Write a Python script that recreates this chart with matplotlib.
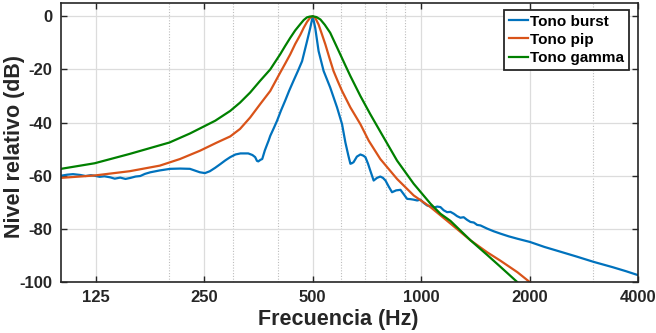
import numpy as np
import matplotlib.pyplot as plt
from matplotlib.ticker import FixedLocator, NullFormatter

# values (frequency in Hz, level in dB)
burst_f = [100, 104, 108, 113, 117, 121, 124, 128, 132, 137, 141, 146, 151, 156, 161, 166,
           171, 177, 188, 201, 214, 228, 243, 251, 259, 268, 277, 286, 295, 305, 315, 331,
           340, 346, 350, 353, 358, 362, 368, 374, 377, 381, 390, 398, 408, 419, 430, 442,
           455, 467, 482, 492, 500, 508, 519, 536, 559, 584, 603, 616, 628, 636, 642, 649,
           663, 678, 690, 700, 712, 722, 738, 754, 770, 783, 796, 812, 830, 852, 876, 895,
           914, 933, 953, 975, 995, 1016, 1039, 1062, 1084, 1108, 1131, 1155, 1180, 1206,
           1232, 1258, 1285, 1312, 1341, 1371, 1400, 1430, 1461, 1525, 1590, 1661, 1750,
           1850, 2003, 2200, 2438, 2700, 3010, 3400, 3700, 4000]
burst_db = [-60.0, -59.6, -59.4, -59.7, -60.1, -59.8, -60.0, -60.4, -60.2, -60.6, -61.1, -60.7,
            -61.2, -60.8, -60.3, -60.1, -59.3, -58.7, -58.0, -57.4, -57.3, -57.4, -58.7, -59.0,
            -58.3, -57.0, -55.6, -54.2, -53.0, -52.0, -51.6, -51.6, -52.2, -53.0, -54.4, -54.6,
            -54.0, -53.7, -50.5, -48.0, -46.8, -45.0, -42.0, -39.3, -35.5, -31.8, -28.0, -24.3,
            -20.5, -16.9, -9.4, -4.4, 0.0, -4.4, -13.1, -20.6, -26.8, -34.3, -40.6, -47.5,
            -52.5, -55.5, -55.3, -54.9, -52.8, -52.0, -52.4, -53.0, -55.5, -58.0, -61.8, -60.8,
            -60.3, -60.8, -61.8, -64.0, -66.2, -65.5, -65.3, -67.0, -68.7, -68.8, -69.0, -69.3,
            -69.0, -70.2, -71.2, -71.5, -72.0, -71.6, -71.8, -73.0, -73.7, -73.6, -74.3, -75.2,
            -75.8, -75.6, -76.6, -77.4, -77.6, -78.5, -78.7, -79.9, -80.9, -81.8, -82.8, -83.7,
            -84.9, -86.8, -88.6, -90.4, -92.4, -94.4, -95.9, -97.4]

pip_f = [100, 124, 155, 188, 214, 243, 270, 295, 314, 335, 357, 381, 406, 420, 433, 447, 462,
         472, 482, 492, 500, 508, 519, 530, 542, 556, 571, 587, 603, 636, 678, 715, 770, 857,
         953, 1061, 1206, 1371, 1525, 1661, 1850, 2010]
pip_db = [-60.8, -59.9, -58.3, -56.2, -53.7, -50.6, -47.6, -45.2, -42.4, -38.1, -33.1, -28.1,
          -21.2, -17.6, -14.3, -10.4, -6.9, -4.3, -2.1, -0.5, 0.0, -0.6, -3.1, -6.7, -10.6,
          -15.6, -20.6, -24.5, -28.1, -34.3, -40.6, -46.8, -53.7, -61.2, -67.4, -71.8, -78.0,
          -84.3, -88.8, -92.0, -96.3, -100.2]

gamma_f = [100, 124, 155, 200, 228, 268, 295, 314, 335, 357, 381, 393, 406, 419, 433, 447,
           462, 472, 482, 491, 500, 512, 525, 540, 559, 577, 596, 616, 636, 678, 722, 770,
           857, 953, 1061, 1131, 1206, 1371, 1525, 1661, 1848, 1900]
gamma_db = [-57.4, -55.3, -51.8, -47.5, -44.1, -39.3, -35.6, -32.5, -28.7, -24.3, -20.0, -17.2,
            -14.3, -11.2, -8.1, -5.3, -2.9, -1.4, -0.4, -0.1, 0.0, -0.3, -1.2, -3.2, -6.2,
            -10.2, -14.3, -18.5, -22.5, -30.0, -36.8, -43.4, -54.3, -63.0, -70.5, -74.3, -77.0,
            -84.3, -89.8, -94.3, -100.0, -101.5]

x_ticks = [125, 250, 500, 1000, 2000, 4000]
x_minor = [200, 300, 400, 600, 700, 800, 900, 3000]
y_ticks = [-100, -80, -60, -40, -20, 0]

plt.rcParams['font.family'] = ['Liberation Sans', 'DejaVu Sans']
plt.rcParams['font.weight'] = 'bold'
plt.rcParams['axes.unicode_minus'] = False

fig = plt.figure(figsize=(6.56, 3.33), dpi=100)
ax = fig.add_axes([0.093, 0.153, 0.8796, 0.838])

ax.plot(burst_f, burst_db, color='#0072BD', lw=1.6, label='Tono burst')
ax.plot(pip_f, pip_db, color='#D95319', lw=1.6, label='Tono pip')
ax.plot(gamma_f, gamma_db, color='#008000', lw=1.6, label='Tono gamma')

ax.set_xscale('log')
ax.set_xlim(100, 4000)
ax.set_ylim(-100, 5)

ax.xaxis.set_major_locator(FixedLocator(x_ticks))
ax.set_xticklabels([str(t) for t in x_ticks])
ax.xaxis.set_minor_locator(FixedLocator(x_minor))
ax.xaxis.set_minor_formatter(NullFormatter())
ax.set_yticks(y_ticks)

ax.grid(which='major', color='#dcdcdc', lw=0.9)
ax.grid(which='minor', axis='x', color='#bdbdbd', lw=0.8, linestyle=(0, (1, 1.5)))
ax.set_axisbelow(True)

ax.tick_params(which='major', direction='in', length=4, width=1.0, top=True, right=True,
               labelsize=12, pad=6, colors='#262626', labelcolor='#262626')
ax.tick_params(which='minor', length=0)
for s in ax.spines.values():
    s.set_linewidth(1.2)
    s.set_color('#262626')

ax.set_xlabel('Frecuencia (Hz)', fontsize=15.5, fontweight='bold', color='#262626')
ax.xaxis.set_label_coords(0.48, -0.097)
ax.xaxis.label.set_va('top')
ax.set_ylabel('Nivel relativo (dB)', fontsize=15.5, fontweight='bold', color='#262626')
ax.yaxis.set_label_coords(-0.0624, 0.484)

leg = ax.legend(loc='upper right', bbox_to_anchor=(0.9844, 0.975), borderaxespad=0,
                fontsize=11, fancybox=False, framealpha=1, edgecolor='#262626',
                handlelength=1.25, handletextpad=0.15, borderpad=0.3, labelspacing=0.28)
leg.get_frame().set_linewidth(1.3)
for t in leg.get_texts():
    t.set_fontweight('bold')

fig.savefig('out.png', dpi=100)
